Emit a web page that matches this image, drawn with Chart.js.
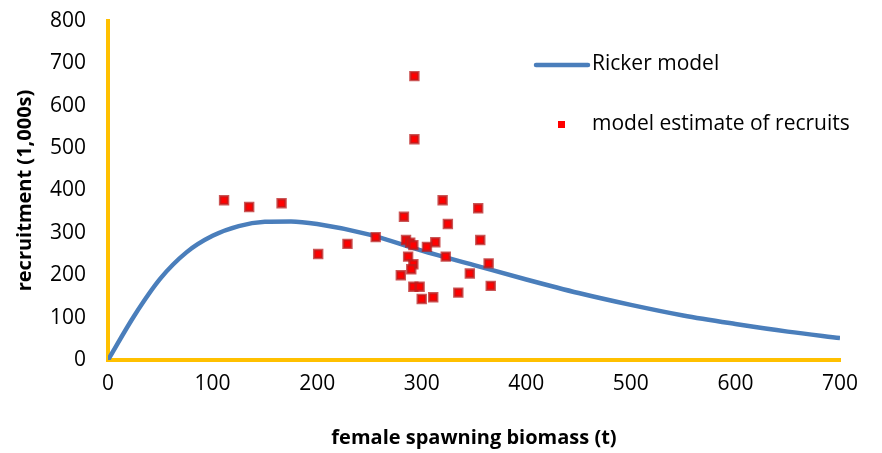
<!DOCTYPE html>
<html lang="en">
<head>
    <meta charset="UTF-8">
    <title>Ricker stock-recruitment</title>
    <style>
        body {
            margin: 0;
            padding: 0;
            background-color: #ffffff;
        }
        .chart-box {
            width: 882px;
            height: 453px;
            position: relative;
        }
    </style>
</head>
<body>
    <div class="chart-box">
        <canvas id="rickerChart"></canvas>
    </div>

    <script src="https://cdn.jsdelivr.net/npm/chart.js"></script>
    <script>
        // Ricker curve
        const curveBiomass = [0, 25, 50, 75, 100, 125, 150, 175, 200, 250, 300, 350, 400, 450, 500, 550, 600, 650, 700];
        const curveRecruits = [0, 104, 192, 254, 293, 316, 326, 327, 321, 296, 258, 224, 190, 158, 130, 105, 85, 67, 52];

        // model estimates of recruits
        const obsBiomass = [111, 135, 166, 201, 229, 256, 283, 293, 293, 320, 354, 325, 285, 289, 292, 313, 305, 356,
                            287, 292, 290, 323, 280, 346, 364, 292, 298, 366, 300, 311, 335];
        const obsRecruits = [377, 361, 370, 250, 274, 290, 338, 670, 521, 377, 358, 321, 283, 277, 271, 278, 267, 283,
                             244, 226, 214, 244, 200, 204, 228, 173, 173, 175, 144, 148, 159];

        const xTicks = [0, 100, 200, 300, 400, 500, 600, 700];
        const yTicks = [0, 100, 200, 300, 400, 500, 600, 700, 800];

        const lineColor = '#4A7EBB';
        const axisColor = '#FFC000';
        const fontFamily = '"Open Sans", Lato, sans-serif';

        function toPoints(xs, ys) {
            return xs.map((x, i) => ({ x: x, y: ys[i] }));
        }

        // legend drawn inside the plot, like the original
        const sideLegend = {
            id: 'sideLegend',
            afterDraw(chart) {
                const ctx = chart.ctx;
                ctx.save();
                ctx.font = '21px ' + fontFamily;
                ctx.fillStyle = '#000';
                ctx.textBaseline = 'middle';
                ctx.textAlign = 'left';

                ctx.strokeStyle = lineColor;
                ctx.lineWidth = 4.5;
                ctx.lineCap = 'round';
                ctx.beginPath();
                ctx.moveTo(536, 65);
                ctx.lineTo(588, 65);
                ctx.stroke();
                ctx.fillText('Ricker model', 592, 64);

                ctx.fillStyle = '#FF0000';
                ctx.fillRect(558, 121, 7, 7);
                ctx.fillStyle = '#000';
                ctx.fillText('model estimate of recruits', 592, 124);
                ctx.restore();
            }
        };

        const ctx = document.getElementById('rickerChart').getContext('2d');
        new Chart(ctx, {
            type: 'scatter',
            data: {
                datasets: [{
                    label: 'Ricker model',
                    data: toPoints(curveBiomass, curveRecruits),
                    showLine: true,
                    borderColor: lineColor,
                    borderWidth: 4.5,
                    pointRadius: 0,
                    cubicInterpolationMode: 'monotone',
                    order: 2
                }, {
                    label: 'model estimate of recruits',
                    data: toPoints(obsBiomass, obsRecruits),
                    showLine: false,
                    pointStyle: 'rect',
                    pointRadius: 5.6,
                    backgroundColor: '#FF0000',
                    borderColor: 'rgba(185, 30, 30, 0.75)',
                    borderWidth: 2.5,
                    order: 1
                }]
            },
            options: {
                responsive: true,
                maintainAspectRatio: false,
                animation: false,
                layout: {
                    padding: { left: 0, right: 42, top: 21, bottom: 0 }
                },
                plugins: {
                    legend: { display: false },
                    tooltip: { enabled: false }
                },
                scales: {
                    x: {
                        type: 'linear',
                        min: 0,
                        max: 700,
                        afterFit: s => { s.height = 93; },
                        afterBuildTicks: s => { s.ticks = xTicks.map(v => ({ value: v })); },
                        grid: { display: false, drawTicks: false },
                        border: { color: axisColor, width: 4 },
                        ticks: {
                            padding: 11,
                            color: '#000',
                            font: { family: fontFamily, size: 21 }
                        },
                        title: {
                            display: true,
                            text: 'female spawning biomass (t)',
                            color: '#000',
                            padding: { top: 0, bottom: 3 },
                            font: { family: fontFamily, size: 20, weight: 'bold' }
                        }
                    },
                    y: {
                        min: 0,
                        max: 800,
                        afterFit: s => {
                            s.width = 108;
                            // the tick padding should not push the plot down
                            s.paddingTop = 12;
                            s.paddingBottom = 12;
                        },
                        afterBuildTicks: s => { s.ticks = yTicks.map(v => ({ value: v })); },
                        grid: { display: false, drawTicks: false },
                        border: { color: axisColor, width: 4 },
                        ticks: {
                            padding: 22,
                            color: '#000',
                            font: { family: fontFamily, size: 21 }
                        },
                        title: {
                            display: true,
                            text: 'recruitment (1,000s)',
                            color: '#000',
                            padding: { top: 13, bottom: 0 },
                            font: { family: fontFamily, size: 20, weight: 'bold' }
                        }
                    }
                }
            },
            plugins: [sideLegend]
        });
    </script>
</body>
</html>
